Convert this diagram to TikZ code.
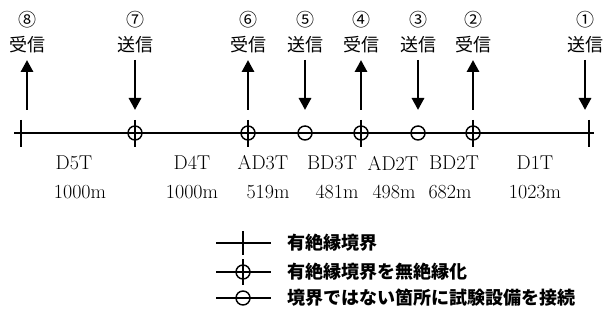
\documentclass[tikz,border=0pt]{standalone}
\usepackage{fontspec}
\newfontfamily\jpfont{Noto Sans CJK JP}
\usetikzlibrary{arrows.meta, positioning}
\tikzset{
  rail/.style={line width=1.1pt},
  sig/.style={-{Triangle[length=9pt, width=9pt]}, line width=2.2pt},
  joint/.style={circle, draw, line width=1.1pt, minimum size=10.5pt, inner sep=0pt},
  tag/.style={font=\jpfont\fontsize{13.5}{15}\selectfont, inner sep=0pt},
  seg/.style={font=\fontsize{15}{17}\selectfont, inner sep=0pt},
  key/.style={font=\jpfont\bfseries\fontsize{13.5}{15}\selectfont, inner sep=0pt, anchor=west},
}
\begin{document}
\begin{tikzpicture}[x=0.75pt, y=-0.75pt]
  \useasboundingbox (0,0) rectangle (605,334);
  % track
  \coordinate (west) at (14,133);
  \coordinate (east) at (594,133);
  \draw[rail] (west) -- (east);
  % insulated joints at both ends
  \foreach \mx [count=\k] in {21, 589}
    { \coordinate (ta\k) at (\mx,120); \coordinate (tb\k) at (\mx,147); \draw[rail] (ta\k) -- (tb\k); }
  % joints made non-insulated
  \foreach \mx [count=\k] in {135, 248, 361, 473}
    { \node[joint] (cj\k) at (\mx,133) {};
      \coordinate (ca\k) at (\mx,120); \coordinate (cb\k) at (\mx,147); \draw[rail] (ca\k) -- (cb\k); }
  % test points away from joints
  \foreach \mx [count=\k] in {305, 418}
    { \node[joint] (oj\k) at (\mx,133) {}; }
  % send / receive points
  \foreach \ax/\ya/\yb/\no/\txt [count=\k] in {27/110/60/⑧/受信, 135/60/110/⑦/送信, 248/110/60/⑥/受信, 305/60/110/⑤/送信,
      361/110/60/④/受信, 418/60/110/③/送信, 473/110/60/②/受信, 585/60/110/①/送信}
    { \node[tag] (no\k) at (\ax,20) {\no};
      \node[tag] (tx\k) at (\ax,45) {\txt};
      \coordinate (s\k) at (\ax,\ya); \coordinate (e\k) at (\ax,\yb);
      \draw[sig] (s\k) -- (e\k); }
  % sections and lengths
  \foreach \x/\name/\len/\lx [count=\k] in {74/D5T/1000m/80, 192/D4T/1000m/192, 263/AD3T/519m/268, 332/BD3T/481m/337,
      393/AD2T/498m/394, 454/BD2T/682m/450, 535/D1T/1023m/535}
    { \node[seg] (sec\k) at (\x,163) {\name};
      \node[seg] (len\k) at (\lx,192) {\len}; }
  % legend
  \coordinate (k1a) at (216,243); \coordinate (k1b) at (271,243);
  \coordinate (k1t) at (243,231); \coordinate (k1u) at (243,255);
  \draw[rail] (k1a) -- (k1b); \draw[rail] (k1t) -- (k1u);
  \node[key] (key1) at (287,243) {有絶縁境界};
  \coordinate (k2a) at (216,272); \coordinate (k2b) at (271,272);
  \coordinate (k2t) at (243,259); \coordinate (k2u) at (243,285);
  \draw[rail] (k2a) -- (k2b); \node[joint] (k2c) at (243,272) {}; \draw[rail] (k2t) -- (k2u);
  \node[key] (key2) at (287,272) {有絶縁境界を無絶縁化};
  \coordinate (k3a) at (216,298); \coordinate (k3b) at (271,298);
  \draw[rail] (k3a) -- (k3b); \node[joint] (k3c) at (243,298) {};
  \node[key] (key3) at (287,298) {境界ではない箇所に試験設備を接続};
\end{tikzpicture}
\end{document}
